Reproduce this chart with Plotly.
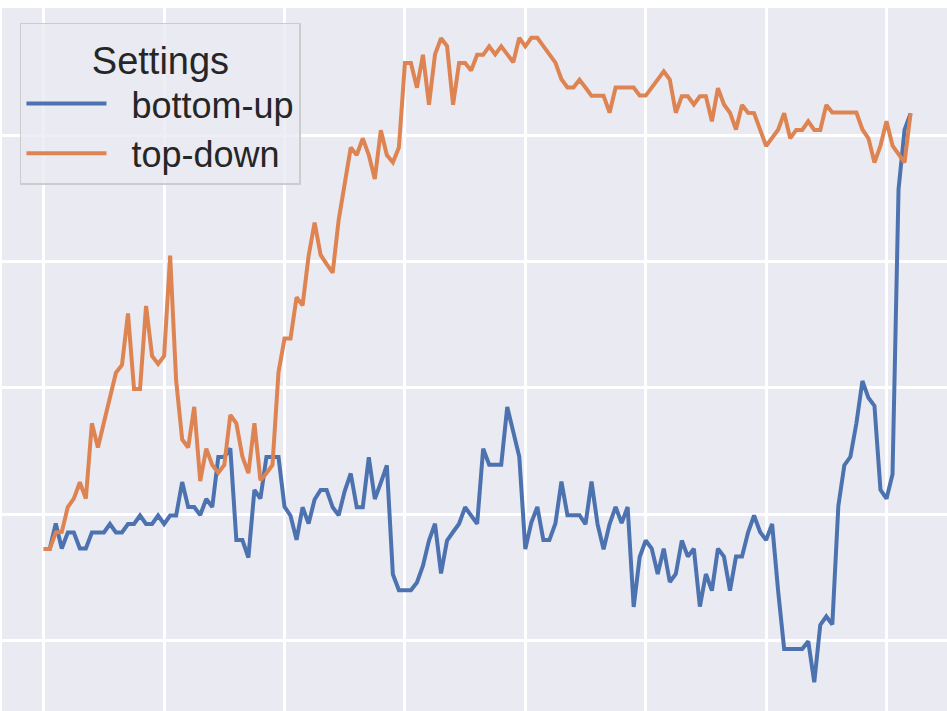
import plotly.graph_objects as go

# x positions (step index) and series values (arbitrary units)
steps = list(range(145))

bottom_up = [
    92, 92, 117.5, 92.5, 108.5, 108.5, 92.5, 92.5, 108.5, 108.5,
    108.5, 117, 108.5, 108.5, 117, 117, 125.5, 117, 117, 125.5,
    117, 125.5, 125.5, 159, 134, 134, 126, 142, 134, 184,
    184, 192.5, 101, 101, 83.5, 151, 142.5, 184, 184, 184,
    134.3, 125.3, 101.2, 133.7, 117.5, 141.5, 151, 151, 133.7, 125.8,
    150, 167.5, 133.7, 133.7, 183.8, 142, 158.3, 175.7, 66.7, 50.7,
    50.7, 50.7, 58.5, 75.2, 100.5, 117.2, 67.6, 100.4, 109, 117.2,
    133.7, 125.8, 117.2, 192.3, 176.2, 176.2, 176.2, 234, 210.3, 184.2,
    92, 118.5, 134.1, 100.9, 100.9, 117.5, 159.4, 125.8, 125.8, 125.8,
    116.9, 159.4, 116.9, 91.7, 116.9, 134.1, 118, 134, 34, 84,
    100.5, 92.4, 67, 92.4, 59, 67, 100.5, 84.4, 92.4, 34.4,
    67, 50.4, 92.4, 84.4, 50.4, 84.4, 84.4, 108.5, 125.5, 109,
    101, 117, 50, -8, -8, -8, -8, -0.2, -41.3, 16.1,
    24.5, 16.5, 135, 175.8, 184.2, 217.7, 260, 243.2, 235.1, 151.1,
    142.3, 166.8, 451.6, 511.2, 527.6,
]

top_down = [
    92, 92, 108.5, 109, 134, 142.4, 158.7, 142.4, 217.7, 193.5,
    218.5, 243.5, 268.3, 276, 327.5, 252, 252, 335, 285, 277,
    285, 385.5, 260.5, 201.5, 193.5, 234.2, 159.8, 192.4, 176, 168.2,
    176, 226, 217.7, 184.6, 167.8, 217.7, 160.7, 167.8, 176, 268.7,
    302.4, 302.4, 343.8, 335.6, 385, 418.5, 386.1, 376.8, 368.3, 421.2,
    460.1, 493.4, 486, 502.6, 486, 462, 510.8, 486, 478.6, 493.4,
    578, 578, 553.3, 586.2, 536.3, 586.6, 602.8, 594.9, 536.3, 578,
    578, 570.5, 586.2, 586.2, 594.6, 586.6, 594.6, 586.6, 578.7, 603.2,
    594.7, 603.2, 603.2, 594.9, 586.2, 578.4, 561.7, 553.5, 553.5, 561.3,
    553.5, 545.2, 545.2, 545.2, 528.3, 553.5, 553.5, 553.5, 553.5, 545.4,
    545.4, 553.4, 561.5, 569.7, 561.5, 528.3, 544.7, 544.7, 536.5, 544.7,
    544.7, 519.7, 552.9, 536.5, 528.3, 511.5, 536.1, 528.3, 527.9, 511.4,
    495, 503.1, 511.2, 527.7, 502.7, 511.1, 511.1, 519.7, 511.1, 511.1,
    536.1, 528.4, 528.4, 528.4, 528.4, 528.4, 511.5, 502.7, 478.4, 495.4,
    519.7, 495.4, 486.9, 478.4, 527.7,
]

series_names = ["bottom-up", "top-down"]
series_colors = ["#4C72B0", "#DD8452"]
legend_title = "Settings"

FONT = "Liberation Sans, Arial, sans-serif"
GAP = "\u00a0\u00a0"  # visual gap between legend line and label

fig = go.Figure()
for name, vals, col in zip(series_names, [bottom_up, top_down], series_colors):
    fig.add_trace(go.Scatter(
        x=steps, y=vals, mode="lines", name=GAP + name,
        line=dict(color=col, width=4),
    ))

fig.update_layout(
    width=947, height=711,
    margin=dict(l=2, r=0, t=8, b=0),
    paper_bgcolor="white",
    plot_bgcolor="#EAEAF2",
    font=dict(family=FONT, color="#262626", size=36),
    showlegend=True,
    legend=dict(
        title=dict(text=legend_title, side="top center",
                   font=dict(size=38, family=FONT, color="#262626")),
        font=dict(size=36, family=FONT, color="#262626"),
        x=0.019, y=0.979, xanchor="left", yanchor="top",
        bgcolor="rgba(234,234,242,0.8)",
        bordercolor="#CCCCCC", borderwidth=1.5,
        itemwidth=80,
        tracegroupgap=0,
    ),
    xaxis=dict(
        range=[-6.93, 150.05], tick0=0, dtick=20,
        showticklabels=False, ticks="", showline=False, zeroline=False,
        gridcolor="white", gridwidth=2.5,
    ),
    yaxis=dict(
        range=[-70, 633], tick0=0.3, dtick=126.4,
        showticklabels=False, ticks="", showline=False, zeroline=False,
        gridcolor="white", gridwidth=2.5,
    ),
)

fig.write_html(
    "out.html",
    config={"displayModeBar": False},
    post_script="document.body.style.margin='0';",
)
